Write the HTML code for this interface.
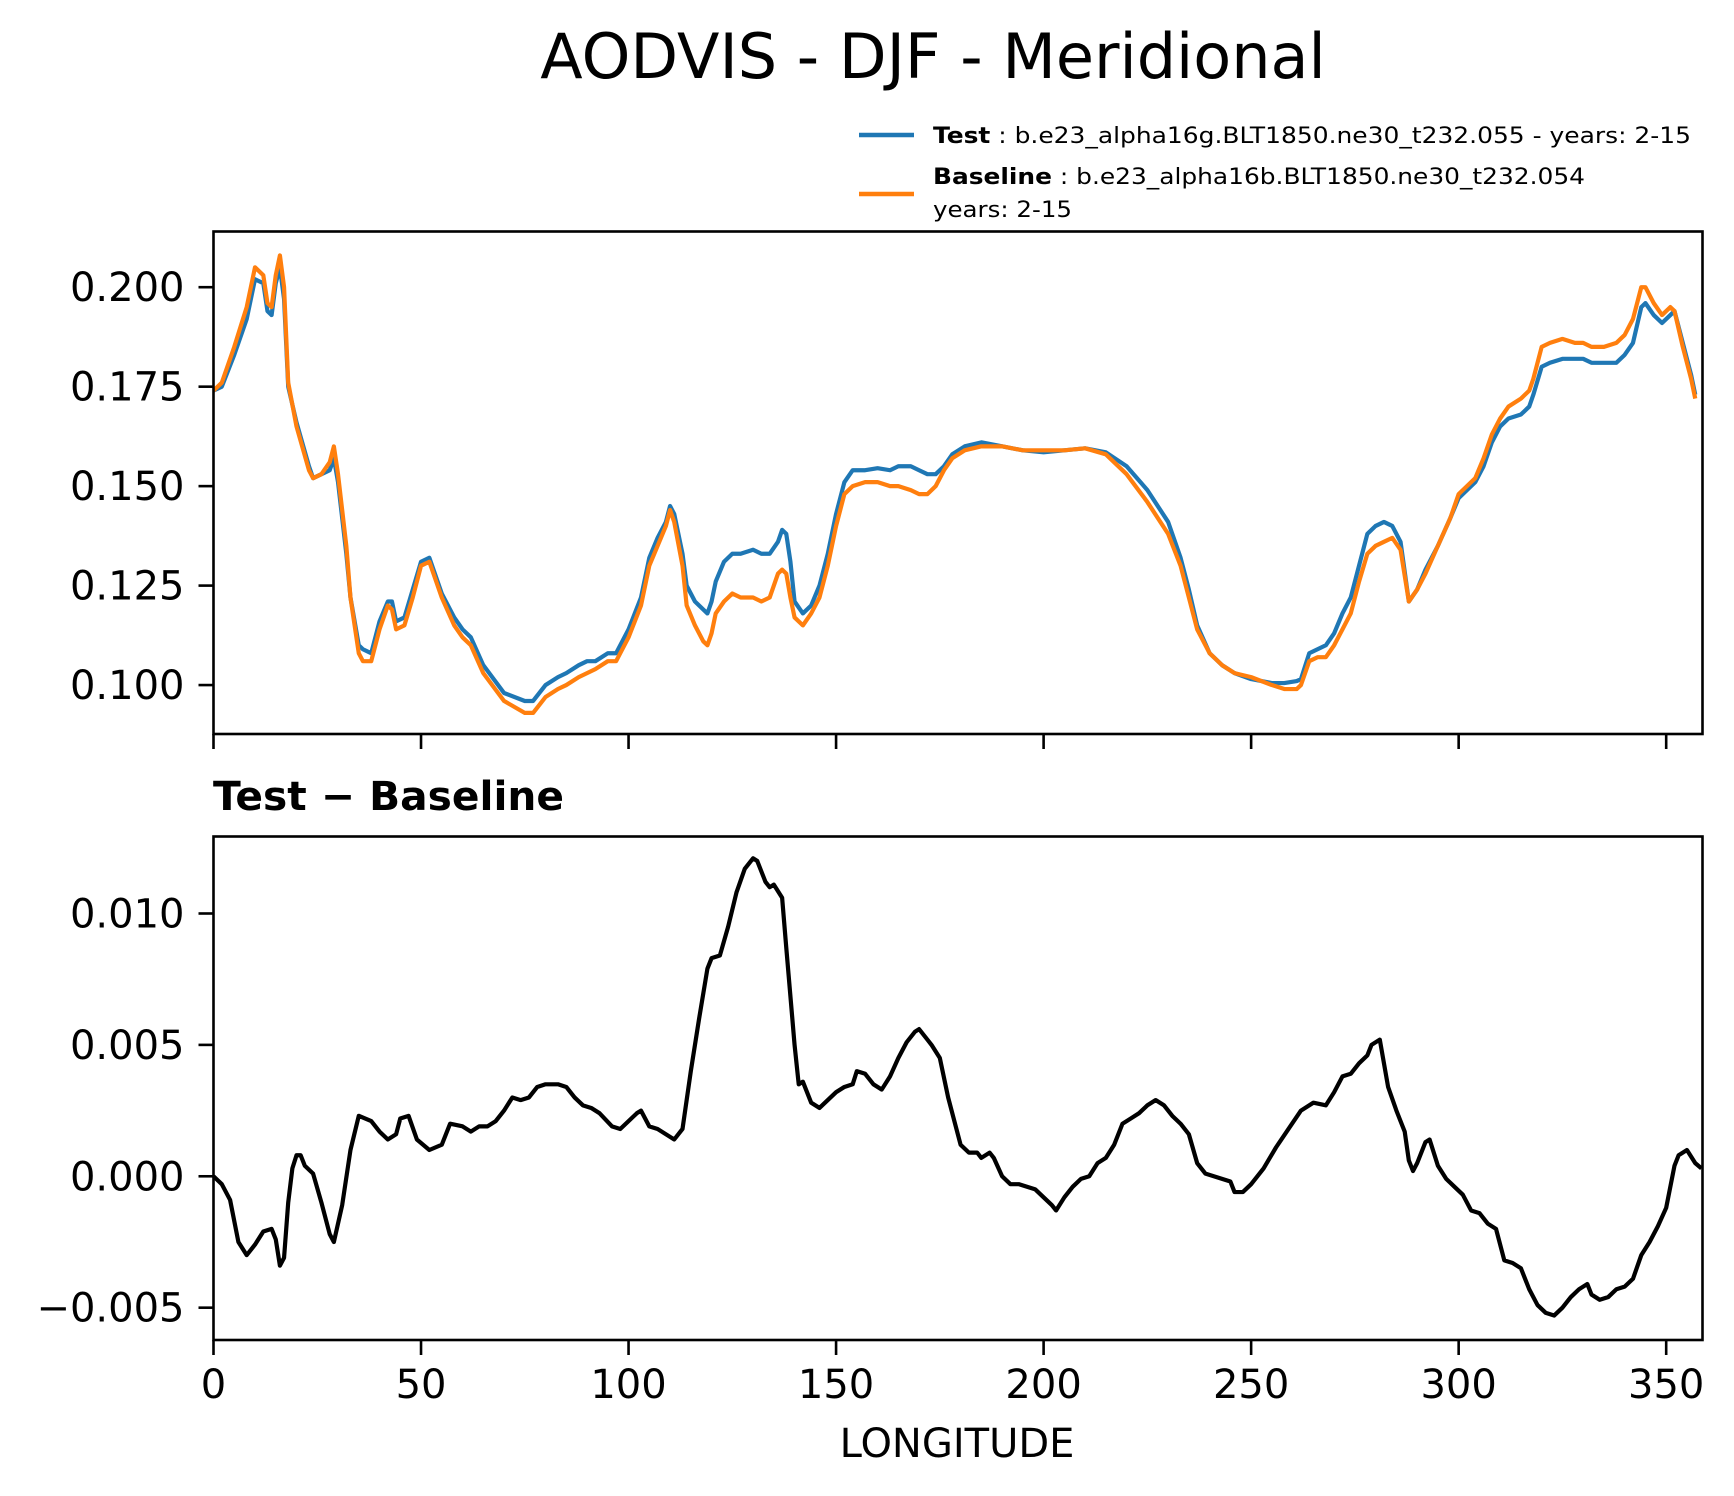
<!DOCTYPE html>
<html><head><meta charset="utf-8">
<style>
html,body{margin:0;padding:0;background:#fff;}
svg{display:block;font-family:"DejaVu Sans","Liberation Sans",sans-serif;}
</style></head>
<body>
<svg id="chart" width="1734" height="1496" viewBox="0 0 1734 1496" xmlns="http://www.w3.org/2000/svg">
<text x="933" y="78" font-size="62" text-anchor="middle">AODVIS - DJF - Meridional</text>
<g>
<line x1="859" y1="135" x2="914" y2="135" stroke="#1f77b4" stroke-width="4.5"/>
<text x="933" y="143" font-size="22" textLength="758" lengthAdjust="spacingAndGlyphs"><tspan font-weight="bold">Test</tspan> : b.e23_alpha16g.BLT1850.ne30_t232.055 - years: 2-15</text>
<line x1="859" y1="194" x2="914" y2="194" stroke="#ff7f0e" stroke-width="4.5"/>
<text x="933" y="184" font-size="22" textLength="652" lengthAdjust="spacingAndGlyphs"><tspan font-weight="bold">Baseline</tspan> : b.e23_alpha16b.BLT1850.ne30_t232.054</text>
<text x="933" y="217" font-size="22" textLength="139" lengthAdjust="spacingAndGlyphs">years: 2-15</text>
</g>
<text x="213" y="810" font-size="40" font-weight="bold" textLength="351" lengthAdjust="spacingAndGlyphs">Test − Baseline</text>
<text x="957" y="1457" font-size="40" text-anchor="middle">LONGITUDE</text>
<g id="top"></g>
<g id="bot"></g>
</svg>
<script>
const lonTop=[0,2,5,8,10,12,13,14,15,16,17,18,20,23,24,26,28,29,30,32,33,35,36,38,40,42,43,44,46,48,50,52,55,58,60,62,65,70,75,77,80,83,85,88,90,92,95,97,100,103,105,107,109,110,111,113,114,116,118,119,120,121,123,125,127,130,132,134,136,137,138,139,140,142,144,146,148,150,152,154,157,160,163,165,168,170,172,174,176,178,181,185,190,195,200,205,210,215,220,225,230,233,235,237,240,243,246,250,255,258,261,262,264,266,268,270,272,274,276,278,280,282,284,286,288,290,292,295,298,300,302,304,306,308,310,312,315,317,318,320,322,325,328,330,332,335,338,340,342,344,345,347,349,351,352,354,356,357];
const baselineVals=[0.174,0.176,0.185,0.195,0.205,0.203,0.196,0.195,0.203,0.208,0.200,0.176,0.165,0.154,0.152,0.153,0.156,0.160,0.153,0.135,0.122,0.108,0.106,0.106,0.114,0.120,0.119,0.114,0.115,0.122,0.130,0.131,0.122,0.115,0.112,0.110,0.103,0.096,0.093,0.093,0.097,0.099,0.100,0.102,0.103,0.104,0.106,0.106,0.112,0.120,0.130,0.135,0.140,0.144,0.141,0.130,0.120,0.115,0.111,0.110,0.113,0.118,0.121,0.123,0.122,0.122,0.121,0.122,0.128,0.129,0.128,0.122,0.117,0.115,0.118,0.122,0.130,0.140,0.148,0.150,0.151,0.151,0.150,0.150,0.149,0.148,0.148,0.150,0.154,0.157,0.159,0.160,0.160,0.159,0.159,0.159,0.1595,0.158,0.153,0.146,0.138,0.130,0.122,0.114,0.108,0.105,0.103,0.102,0.100,0.099,0.099,0.100,0.106,0.107,0.107,0.110,0.114,0.118,0.126,0.133,0.135,0.136,0.137,0.134,0.121,0.124,0.128,0.135,0.142,0.148,0.150,0.152,0.157,0.163,0.167,0.170,0.172,0.174,0.177,0.185,0.186,0.187,0.186,0.186,0.185,0.185,0.186,0.188,0.192,0.200,0.200,0.196,0.193,0.195,0.194,0.185,0.177,0.172];
const testVals=[0.174,0.175,0.183,0.192,0.202,0.201,0.194,0.193,0.201,0.205,0.197,0.175,0.166,0.155,0.152,0.153,0.154,0.157,0.151,0.133,0.122,0.110,0.109,0.108,0.116,0.121,0.121,0.116,0.117,0.124,0.131,0.132,0.123,0.117,0.114,0.112,0.105,0.098,0.096,0.096,0.100,0.102,0.103,0.105,0.106,0.106,0.108,0.108,0.114,0.122,0.132,0.137,0.141,0.145,0.143,0.133,0.125,0.121,0.119,0.118,0.121,0.126,0.131,0.133,0.133,0.134,0.133,0.133,0.136,0.139,0.138,0.131,0.121,0.118,0.120,0.125,0.133,0.143,0.151,0.154,0.154,0.1545,0.154,0.155,0.155,0.154,0.153,0.153,0.155,0.158,0.160,0.161,0.160,0.159,0.1585,0.159,0.1595,0.1585,0.155,0.149,0.141,0.132,0.124,0.115,0.108,0.105,0.103,0.1015,0.1005,0.1005,0.101,0.1015,0.108,0.109,0.110,0.113,0.118,0.122,0.130,0.138,0.140,0.141,0.140,0.136,0.121,0.124,0.129,0.135,0.142,0.147,0.149,0.151,0.155,0.161,0.165,0.167,0.168,0.170,0.173,0.180,0.181,0.182,0.182,0.182,0.181,0.181,0.181,0.183,0.186,0.195,0.196,0.193,0.191,0.193,0.194,0.186,0.178,0.173];
const lonDiff=[0,2,4,6,8,10,12,14,15,16,17,18,19,20,21,22,24,26,28,29,31,33,35,38,40,42,44,45,47,49,52,55,57,60,62,64,66,68,70,72,74,76,78,80,83,85,87,89,91,93,96,98,100,102,103,105,107,109,111,113,115,117,119,120,122,124,126,128,130,131,133,134,135,137,138,140,141,142,144,146,148,150,152,154,155,157,159,161,163,165,167,169,170,172,173,175,177,179,180,182,184,185,187,188,190,192,194,196,198,200,202,203,205,207,209,211,213,215,217,219,221,223,225,227,229,231,233,235,237,239,241,243,245,246,248,250,253,256,259,262,265,268,270,272,274,276,278,279,281,283,285,287,288,289,290,292,293,295,297,299,301,303,305,307,309,311,313,315,317,319,321,323,325,327,329,331,332,334,336,338,340,342,344,346,348,350,352,353,355,357,358.5];
const diffVals=[0.0000,-0.0003,-0.0009,-0.0025,-0.0030,-0.0026,-0.0021,-0.0020,-0.0024,-0.0034,-0.0031,-0.0010,0.0003,0.0008,0.0008,0.0004,0.0001,-0.0010,-0.0022,-0.0025,-0.0011,0.0010,0.0023,0.0021,0.0017,0.0014,0.0016,0.0022,0.0023,0.0014,0.0010,0.0012,0.0020,0.0019,0.0017,0.0019,0.0019,0.0021,0.0025,0.0030,0.0029,0.0030,0.0034,0.0035,0.0035,0.0034,0.0030,0.0027,0.0026,0.0024,0.0019,0.0018,0.0021,0.0024,0.0025,0.0019,0.0018,0.0016,0.0014,0.0018,0.0040,0.0060,0.0079,0.0083,0.0084,0.0095,0.0108,0.0117,0.0121,0.0120,0.0112,0.0110,0.0111,0.0106,0.0087,0.0050,0.0035,0.0036,0.0028,0.0026,0.0029,0.0032,0.0034,0.0035,0.0040,0.0039,0.0035,0.0033,0.0038,0.0045,0.0051,0.0055,0.0056,0.0052,0.0050,0.0045,0.0030,0.0018,0.0012,0.0009,0.0009,0.0007,0.0009,0.0007,0.0000,-0.0003,-0.0003,-0.0004,-0.0005,-0.0008,-0.0011,-0.0013,-0.0008,-0.0004,-0.0001,0.0000,0.0005,0.0007,0.0012,0.0020,0.0022,0.0024,0.0027,0.0029,0.0027,0.0023,0.0020,0.0016,0.0005,0.0001,0.0000,-0.0001,-0.0002,-0.0006,-0.0006,-0.0003,0.0003,0.0011,0.0018,0.0025,0.0028,0.0027,0.0032,0.0038,0.0039,0.0043,0.0046,0.0050,0.0052,0.0034,0.0025,0.0017,0.0006,0.0002,0.0005,0.0013,0.0014,0.0004,-0.0001,-0.0004,-0.0007,-0.0013,-0.0014,-0.0018,-0.0020,-0.0032,-0.0033,-0.0035,-0.0043,-0.0049,-0.0052,-0.0053,-0.0050,-0.0046,-0.0043,-0.0041,-0.0045,-0.0047,-0.0046,-0.0043,-0.0042,-0.0039,-0.0030,-0.0025,-0.0019,-0.0012,0.0004,0.0008,0.0010,0.0005,0.0003];
const xTicks=[0,50,100,150,200,250,300,350];
const topTicks=[0.100,0.125,0.150,0.175,0.200];
const topTickLabels=["0.100","0.125","0.150","0.175","0.200"];
const botTicks=[-0.005,0.000,0.005,0.010];
const botTickLabels=["−0.005","0.000","0.005","0.010"];

const NS="http://www.w3.org/2000/svg";
const L=213.5,R=1702.5;
const XMIN=0,XMAX=358.75;
const xs=v=>L+(v-XMIN)/(XMAX-XMIN)*(R-L);
const topBox={t:231.5,b:734,min:0.0877,max:0.2140};
const botBox={t:836.5,b:1340,min:-0.00623,max:0.01293};
const ys=(box,v)=>box.b-(v-box.min)/(box.max-box.min)*(box.b-box.t);
function mk(tag,attrs,parent){const e=document.createElementNS(NS,tag);for(const k in attrs)e.setAttribute(k,attrs[k]);parent.appendChild(e);return e;}

function panel(g,box,ticks,labels,showXLabels,prefix){
  const clipId=prefix+"-clip";
  const cp=mk("clipPath",{id:clipId},g);
  mk("rect",{x:L,y:box.t,width:R-L,height:box.b-box.t},cp);
  ticks.forEach((v,i)=>{
    const y=ys(box,v);
    const t=mk("line",{x1:L-15,x2:L,y1:y,y2:y,stroke:"#000","stroke-width":2.6},g);
    
    
    const tx=mk("text",{x:L-29,y:y+14,"font-size":40,"text-anchor":"end"},g);
    tx.textContent=labels[i];
    
    
  });
  xTicks.forEach(v=>{
    const x=xs(v);
    const t=mk("line",{x1:x,x2:x,y1:box.b,y2:box.b+15,stroke:"#000","stroke-width":2.6},g);
    
    
    if(showXLabels){
      const tx=mk("text",{x:x,y:box.b+58,"font-size":40,"text-anchor":"middle"},g);
      tx.textContent=String(v);
      
      
    }
  });
  return clipId;
}
function line(g,lons,vals,box,color,clip,name){
  const d=lons.map((l,i)=>(i?"L":"M")+xs(l).toFixed(2)+","+ys(box,vals[i]).toFixed(2)).join(" ");
  const p=mk("path",{d:d,fill:"none",stroke:color,"stroke-width":4.2,"stroke-linejoin":"round","clip-path":"url(#"+clip+")"},g);
  
  
}
function frame(g,box,name){
  const r=mk("rect",{x:L,y:box.t,width:R-L,height:box.b-box.t,fill:"none",stroke:"#000","stroke-width":2.6},g);
  
  
}
const gt=document.getElementById("top");
const c1=panel(gt,topBox,topTicks,topTickLabels,false,"top");
line(gt,lonTop,testVals,topBox,"#1f77b4",c1,"test-line");
line(gt,lonTop,baselineVals,topBox,"#ff7f0e",c1,"baseline-line");
frame(gt,topBox,"top-plot-frame");
const gb=document.getElementById("bot");
const c2=panel(gb,botBox,botTicks,botTickLabels,true,"diff");
line(gb,lonDiff,diffVals,botBox,"#000",c2,"difference-line");
frame(gb,botBox,"diff-plot-frame");
</script>
</body></html>
